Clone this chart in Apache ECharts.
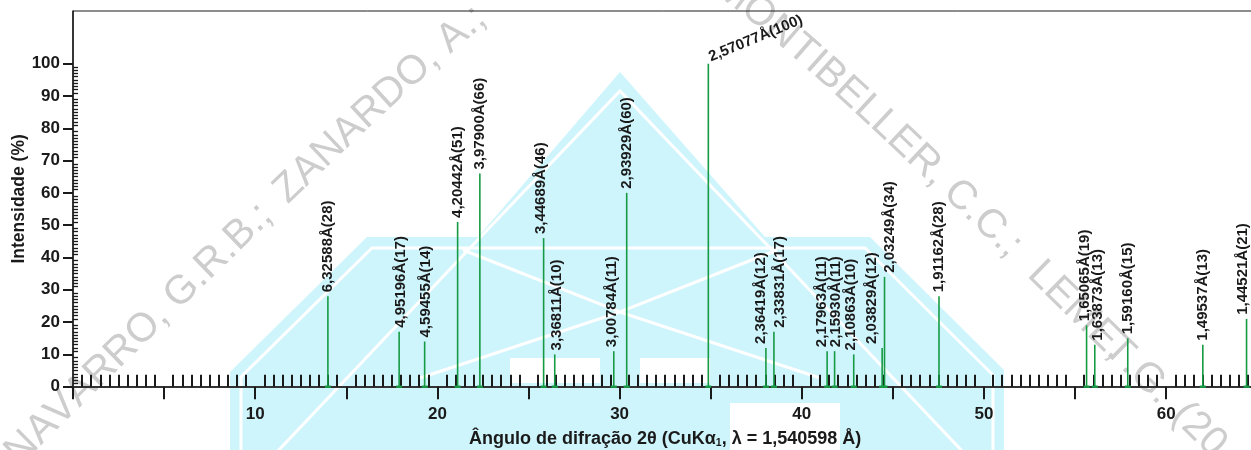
<!DOCTYPE html>
<html>
<head>
<meta charset="utf-8">
<script src="https://cdn.jsdelivr.net/npm/echarts@6/dist/echarts.min.js"></script>
<style>
  html, body { margin: 0; padding: 0; background: #ffffff; }
  #chart { width: 1251px; height: 450px; }
</style>
</head>
<body>
<div id="chart"></div>
<script>
// Diffraction peaks: position 2θ (degrees), d-spacing (Å) and relative intensity (%)
const twoTheta = [13.99, 17.90, 19.30, 21.11, 22.33, 25.83, 26.44, 29.68, 30.39, 34.87,
                  38.03, 38.47, 41.39, 41.80, 42.85, 44.41, 44.54, 47.53, 55.63, 56.08,
                  57.89, 62.01, 64.41];
const dSpacing = ['6,32588', '4,95196', '4,59455', '4,20442', '3,97900', '3,44689', '3,36811',
                  '3,00784', '2,93929', '2,57077', '2,36419', '2,33831', '2,17963', '2,15930',
                  '2,10863', '2,03829', '2,03249', '1,91162', '1,65065', '1,63873', '1,59160',
                  '1,49537', '1,44521'];
const intensity = [28, 17, 14, 51, 66, 46, 10, 11, 60, 100, 12, 17, 11, 11, 10, 12, 34, 28,
                   19, 13, 15, 13, 21];

// Axis tick labels
const xTickLabels = [10, 20, 30, 40, 50, 60];
const yTickLabels = [0, 10, 20, 30, 40, 50, 60, 70, 80, 90, 100];

// Watermark credit text, word by word, with the x at which a chosen glyph sits
const creditWords = [
  { text: 'NAVARRO,', at: 0, x: 22 },
  { text: 'G.R.B.;', at: 0, x: 182 },
  { text: 'ZANARDO,', at: 0, x: 289 },
  { text: 'A.;', at: 0, x: 453 },
  { text: 'MONTIBELLER,', at: 5, x: 830 },
  { text: 'C.C.;', at: 0, x: 960 },
  { text: 'LEME,', at: 0, x: 1042 },
  { text: 'T.G.', at: 0, x: 1119 },
  { text: '(20', at: 0, x: 1183 }
];

// Horizontal nudges (px) so that neighbouring peak labels do not collide
const labelNudge = { 1: 2, 2: 1.7, 5: -3, 6: 1.7, 7: -2, 10: -5.5, 11: 6, 12: -5, 13: 1.3,
                     14: -3, 15: -10.6, 16: 5, 18: -2, 19: 2.7, 22: -3.7 };

const FONT = '"Liberation Sans", Arial, Helvetica, sans-serif';
const GREEN = '#169a44';
const INK = '#1a1a1a';

// Stops for the fine 2θ comb (every 0.5°)
const halfDegreeStops = [];
for (let k = 0; k <= 130; k++) halfDegreeStops.push(String(k / 2));

const chart = echarts.init(document.getElementById('chart'), null, { renderer: 'canvas' });

// ---- watermark: credit text laid along a curved path ----
function pathY(x) { return -158 + Math.sqrt((x - 620) * (x - 620) + 100 * 100); }
const samples = [];
(function () {
  let s = 0, px = -300, py = pathY(-300);
  for (let x = -300; x <= 1600; x += 0.5) {
    const y = pathY(x);
    s += Math.hypot(x - px, y - py);
    samples.push({ x: x, y: y, s: s });
    px = x; py = y;
  }
})();
function arcAtX(x) {
  let best = samples[0];
  for (const p of samples) { if (Math.abs(p.x - x) < Math.abs(best.x - x)) best = p; }
  return best.s;
}
function pointAtArc(s) {
  let lo = 0, hi = samples.length - 1;
  while (hi - lo > 1) { const m = (lo + hi) >> 1; if (samples[m].s < s) lo = m; else hi = m; }
  return samples[hi];
}
const measureCtx = document.createElement('canvas').getContext('2d');
const creditFont = '40.5px "Liberation Sans", Arial, sans-serif';
measureCtx.font = creditFont;

function wordGlyphs(word) {
  const chars = Array.from(word.text);
  const widths = chars.map(ch => measureCtx.measureText(ch).width);
  let before = 0;
  for (let i = 0; i < word.at; i++) before += widths[i];
  const s0 = arcAtX(word.x) - before - widths[word.at] / 2;
  const out = [];
  let acc = 0;
  chars.forEach((ch, i) => {
    const sc = s0 + acc + widths[i] / 2;
    acc += widths[i];
    const p = pointAtArc(sc);
    const slope = (p.x - 620) / Math.sqrt((p.x - 620) * (p.x - 620) + 10000);
    out.push({
      type: 'text', x: p.x, y: p.y, rotation: -Math.atan(slope), silent: true, z: -20,
      style: { text: ch, font: creditFont, fill: '#cdcdcd', align: 'center', verticalAlign: 'middle' }
    });
  });
  return out;
}

// ---- watermark: pale cyan emblem with white inner strokes ----
const W = '#ffffff';
function whiteLine(points, width) {
  return { type: 'polyline', silent: true, z: -29, shape: { points: points },
           style: { stroke: W, lineWidth: width || 3, fill: null } };
}
const emblem = [
  { type: 'polygon', silent: true, z: -30,
    shape: { points: [[230, 452], [230, 372], [367, 237], [478, 237], [620, 72], [765, 237],
                      [870, 237], [1004, 370], [1004, 452]] },
    style: { fill: '#cff5fc' } },
  whiteLine([[241, 452], [241, 377], [372, 248], [865, 248], [993, 375], [993, 452]]),
  whiteLine([[470, 248], [620, 91], [770, 248]]),
  whiteLine([[470, 248], [277, 452]]),
  whiteLine([[770, 248], [963, 452]]),
  whiteLine([[463, 250], [620, 312], [777, 250]]),
  whiteLine([[420, 378], [620, 312], [820, 378]]),
  { type: 'rect', silent: true, z: -29, shape: { x: 510, y: 358, width: 90, height: 25 }, style: { fill: W } },
  { type: 'rect', silent: true, z: -29, shape: { x: 640, y: 358, width: 70, height: 25 }, style: { fill: W } },
  { type: 'rect', silent: true, z: -29, shape: { x: 730, y: 403, width: 110, height: 50 }, style: { fill: W } }
];

let graphics = emblem.slice();
creditWords.forEach(w => { graphics = graphics.concat(wordGlyphs(w)); });

const option = {
  animation: false,
  backgroundColor: '#ffffff',
  textStyle: { fontFamily: FONT },
  graphic: { elements: graphics },
  grid: [
    { left: 73, right: -6.3, top: 11, bottom: 63.3, show: true, borderColor: INK, borderWidth: 1,
      backgroundColor: 'transparent', outerBoundsMode: 'none' },
    { left: 73, right: -6.3, top: 63.7, bottom: 63.3, outerBoundsMode: 'none' }
  ],
  xAxis: [
    { gridIndex: 0, type: 'value', min: 0, max: 65, interval: 5, position: 'bottom',
      axisLine: { show: true, onZero: false, lineStyle: { color: '#333333', width: 2 } },
      axisTick: { show: true, inside: false, length: 12.5, lineStyle: { color: INK, width: 2 } },
      splitLine: { show: false },
      axisLabel: { margin: 19, color: INK, fontSize: 17, fontWeight: 'bold', fontFamily: FONT,
                   formatter: v => (xTickLabels.includes(v) ? String(v) : '') },
      name: '{t|Ângulo de difração 2θ (CuKα}{s|1}{t|, λ = 1,540598 Å)}',
      nameLocation: 'middle', nameGap: 42,
      nameTextStyle: {
        rich: {
          t: { fontSize: 18, fontWeight: 'bold', color: INK, fontFamily: FONT, lineHeight: 20 },
          s: { fontSize: 10.5, fontWeight: 'bold', color: INK, fontFamily: FONT, lineHeight: 10,
               verticalAlign: 'bottom' }
        }
      } },
    // fine upward comb every 0.5°, skipping the 5° stops
    { gridIndex: 0, type: 'category', data: halfDegreeStops, boundaryGap: false, position: 'bottom',
      axisLine: { show: false, onZero: false }, axisLabel: { show: false }, splitLine: { show: false },
      axisTick: { show: true, inside: true, length: 12, lineStyle: { color: INK, width: 2 },
                  interval: (idx, val) => Number(val) % 5 !== 0 } },
    { gridIndex: 1, type: 'value', min: 0, max: 65, show: false }
  ],
  yAxis: [
    { gridIndex: 0, type: 'value', min: 0, max: 116.3, position: 'left',
      axisLine: { show: true, onZero: false, lineStyle: { color: INK, width: 1.5 } },
      axisTick: { show: false }, axisLabel: { show: false }, splitLine: { show: false },
      name: 'Intensidade (%)', nameLocation: 'middle', nameGap: 45,
      nameTextStyle: { fontSize: 17.5, fontWeight: 'bold', color: INK, fontFamily: FONT } },
    { gridIndex: 1, type: 'value', min: 0, max: 100, interval: 10, position: 'left',
      axisLine: { show: false, onZero: false }, splitLine: { show: false },
      axisTick: { show: true, inside: false, length: 10, lineStyle: { color: INK, width: 2 } },
      axisLabel: { margin: 13, color: INK, fontSize: 17, fontWeight: 'bold', fontFamily: FONT,
                   formatter: v => (yTickLabels.includes(v) ? String(v) : '') } },
    // fine inward comb every 1 %
    { gridIndex: 1, type: 'value', min: 0, max: 100, interval: 10, position: 'left',
      axisLine: { show: false, onZero: false }, axisLabel: { show: false }, splitLine: { show: false },
      axisTick: { show: false, inside: true },
      minorTick: { show: true, splitNumber: 10, length: 5, lineStyle: { color: INK, width: 1.3 } } }
  ],
  series: [{
    type: 'custom',
    xAxisIndex: 0, yAxisIndex: 0,
    clip: false,
    z: 5,
    data: twoTheta.map((t, i) => [t, intensity[i], i]),
    renderItem: function (params, api) {
      const t = api.value(0), h = api.value(1), i = api.value(2);
      const base = api.coord([t, 0]);
      const top = api.coord([t, h]);
      const text = dSpacing[i] + 'Å(' + intensity[i] + ')';
      const children = [
        { type: 'line', shape: { x1: base[0], y1: base[1], x2: top[0], y2: top[1] },
          style: { stroke: GREEN, lineWidth: 1.6 } },
        { type: 'rect', shape: { x: base[0] - 3, y: base[1] - 1.2, width: 6, height: 2.4 },
          style: { fill: GREEN } }
      ];
      if (h >= 100) {
        children.push({ type: 'text', x: top[0] + 4, y: top[1] + 1, rotation: 22.5 * Math.PI / 180,
          style: { text: text, fill: INK, font: 'bold 15px ' + FONT, align: 'left', verticalAlign: 'bottom' } });
      } else {
        children.push({ type: 'text', x: top[0] + (labelNudge[i] || 0), y: top[1] - 4, rotation: Math.PI / 2,
          style: { text: text, fill: INK, font: 'bold 15px ' + FONT, align: 'left', verticalAlign: 'middle' } });
      }
      return { type: 'group', children: children };
    }
  }]
};

chart.setOption(option);
</script>
</body>
</html>
